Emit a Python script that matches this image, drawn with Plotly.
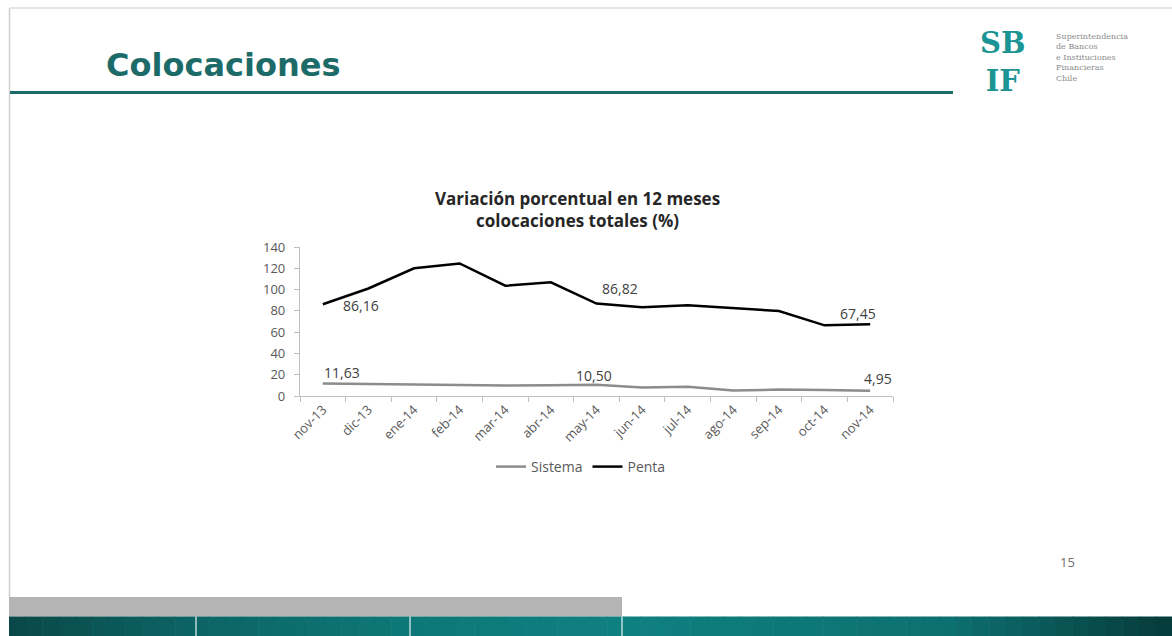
import plotly.graph_objects as go

W, H = 1172, 636

months = ["nov-13", "dic-13", "ene-14", "feb-14", "mar-14", "abr-14", "may-14",
          "jun-14", "jul-14", "ago-14", "sep-14", "oct-14", "nov-14"]
sistema = [11.63, 11.2, 11.0, 10.9, 9.9, 10.2, 10.50, 8.0, 8.6, 5.2, 6.0, 5.7, 4.95]
penta = [86.16, 101.0, 120.0, 124.5, 103.6, 106.8, 86.82, 83.3, 85.2, 82.4, 79.9, 66.4, 67.45]
labeled_idx = [0, 6, 12]
y_ticks = [0, 20, 40, 60, 80, 100, 120, 140]

# label offsets (px) for the data labels: (xshift, yshift)
penta_offsets = [(38, -1), (23, 15), (-12, 11)]
sistema_offsets = [(19, 11), (-3, 9), (8, 12)]


def px(x):
    return x / W


def py(y):
    return 1 - y / H


def fmt(v):
    return f"{v:.2f}".replace(".", ",")


fig = go.Figure()
fig.add_trace(go.Scatter(x=months, y=sistema, mode="lines", name="Sistema",
                         line=dict(color="#8c8c8c", width=2.5)))
fig.add_trace(go.Scatter(x=months, y=penta, mode="lines", name="Penta",
                         line=dict(color="#000000", width=2.5)))

label_font = dict(family="Open Sans", size=14, color="#404040")
annotations = []
for k, i in enumerate(labeled_idx):
    dx, dy = penta_offsets[k]
    annotations.append(dict(x=months[i], y=penta[i], xref="x", yref="y", text=fmt(penta[i]),
                            showarrow=False, xshift=dx, yshift=dy, font=label_font))
    dx, dy = sistema_offsets[k]
    annotations.append(dict(x=months[i], y=sistema[i], xref="x", yref="y", text=fmt(sistema[i]),
                            showarrow=False, xshift=dx, yshift=dy, font=label_font))

# chart title
annotations.append(dict(x=px(577), y=py(209), xref="paper", yref="paper",
                        text="<b>Variación porcentual en 12 meses<br>colocaciones totales (%)</b>",
                        showarrow=False, xanchor="center", yanchor="middle",
                        font=dict(family="Open Sans", size=17, color="#262626")))
# slide title
annotations.append(dict(x=px(104), y=py(65), xref="paper", yref="paper",
                        text="<b>Colocaciones</b>", showarrow=False,
                        xanchor="left", yanchor="middle",
                        font=dict(family="DejaVu Sans", size=32, color="#1d6b69")))
# logo
annotations.append(dict(x=px(1002), y=py(62), xref="paper", yref="paper", text="<b>SB<br>IF</b>",
                        showarrow=False, xanchor="center", yanchor="middle", align="center",
                        font=dict(family="DejaVu Serif", size=29, color="#1b9494")))
annotations.append(dict(x=px(1054), y=py(58), xref="paper", yref="paper",
                        text="Superintendencia<br>de Bancos<br>e Instituciones<br>Financieras<br>Chile",
                        showarrow=False, xanchor="left", yanchor="middle", align="left",
                        font=dict(family="DejaVu Serif", size=8, color="#8a8a8a")))
# page number
annotations.append(dict(x=px(1067), y=py(562), xref="paper", yref="paper", text="15",
                        showarrow=False, xanchor="center", yanchor="middle",
                        font=dict(family="Open Sans", size=13, color="#6f6f6f")))

shapes = []
# slide borders
shapes.append(dict(type="line", xref="paper", yref="paper", x0=px(9.5), x1=px(9.5),
                   y0=py(8), y1=py(597), line=dict(color="#cfcfcf", width=1.5)))
shapes.append(dict(type="line", xref="paper", yref="paper", x0=px(9.5), x1=px(1172),
                   y0=py(8), y1=py(8), line=dict(color="#dcdcdc", width=1.5)))
# header line
shapes.append(dict(type="line", xref="paper", yref="paper", x0=px(10), x1=px(953),
                   y0=py(92.5), y1=py(92.5), line=dict(color="#1b6b69", width=3)))
# grey band
shapes.append(dict(type="rect", xref="paper", yref="paper", x0=px(9), x1=px(622),
                   y0=py(616.5), y1=py(597), fillcolor="#b4b4b4", line=dict(width=0), layer="below"))

# teal gradient band
stops = [(9, (10, 72, 72)), (196, (12, 100, 100)), (410, (14, 120, 120)),
         (622, (15, 128, 128)), (950, (13, 112, 112)), (1172, (7, 58, 58))]


def col_at(x):
    for (x0, c0), (x1, c1) in zip(stops[:-1], stops[1:]):
        if x0 <= x <= x1:
            t = (x - x0) / (x1 - x0)
            return "rgb(%d,%d,%d)" % tuple(round(a + (b - a) * t) for a, b in zip(c0, c1))
    return "rgb(%d,%d,%d)" % stops[-1][1]


n = 70
step = (1172 - 9) / n
for k in range(n):
    xa = 9 + k * step
    xb = xa + step + 0.6
    shapes.append(dict(type="rect", xref="paper", yref="paper", x0=px(xa), x1=px(min(xb, 1172)),
                       y0=py(636), y1=py(616.5), fillcolor=col_at(xa + step / 2),
                       line=dict(width=0), layer="below"))
for xs in [196, 410, 622]:
    shapes.append(dict(type="line", xref="paper", yref="paper", x0=px(xs), x1=px(xs),
                       y0=py(636), y1=py(616.5), line=dict(color="#e8f4f4", width=1.2)))

tick_font = dict(family="Open Sans", size=13, color="#595959")
fig.update_layout(
    width=W, height=H,
    margin=dict(l=0, r=0, t=0, b=0, pad=0, autoexpand=False),
    paper_bgcolor="white", plot_bgcolor="white",
    showlegend=True,
    legend=dict(orientation="h", x=px(581), y=py(467), xanchor="center", yanchor="middle",
                font=dict(family="Open Sans", size=14, color="#595959"),
                itemwidth=30, bgcolor="rgba(0,0,0,0)"),
    xaxis=dict(domain=[px(300), px(893)], type="category", range=[-0.5, 12.5],
               showline=True, linecolor="#bfbfbf", linewidth=1.2,
               ticks="outside", tickson="boundaries", ticklen=5, tickcolor="#bfbfbf",
               tickangle=-45, tickfont=tick_font, showgrid=False, zeroline=False,
               automargin=False),
    yaxis=dict(domain=[py(396), py(247)], range=[0, 140], tickvals=y_ticks,
               showline=True, linecolor="#bfbfbf", linewidth=1.2,
               ticks="outside", ticklen=5, tickcolor="#bfbfbf",
               tickfont=tick_font, showgrid=False, zeroline=False, ticklabelstandoff=6,
               automargin=False),
    annotations=annotations,
    shapes=shapes,
)

fig.write_html("out.html",
               post_script="document.body.style.margin='0';document.body.style.overflow='hidden';")
